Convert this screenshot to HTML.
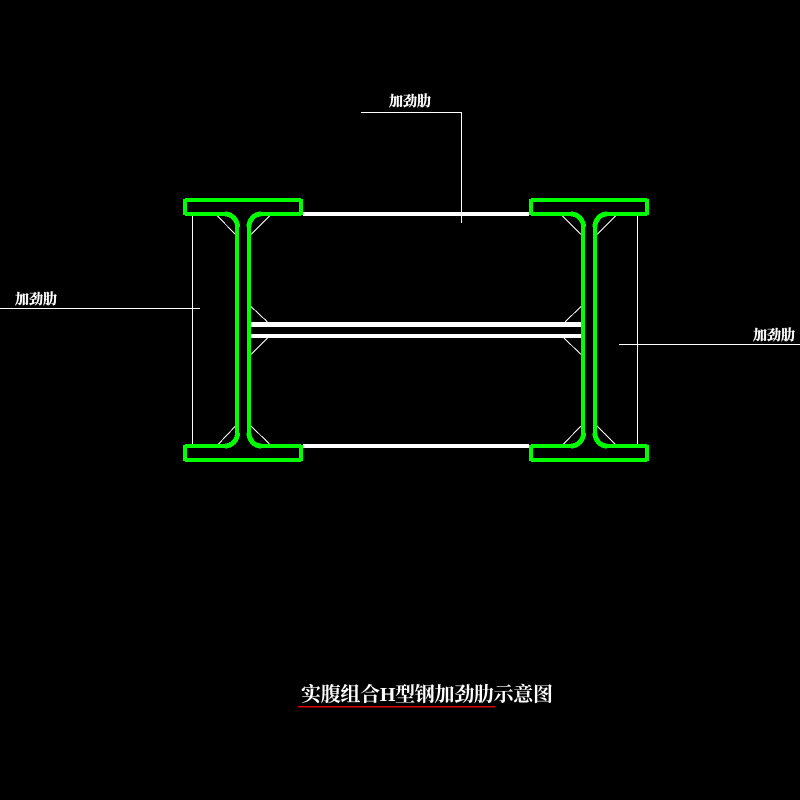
<!DOCTYPE html>
<html lang="zh">
<head>
<meta charset="utf-8">
<title>实腹组合H型钢加劲肋示意图</title>
<style>
html,body{margin:0;padding:0;background:#000;width:800px;height:800px;overflow:hidden}
svg{display:block}
text{fill:#fff;font-family:"Liberation Serif","Noto Serif CJK SC",serif;font-weight:700}
.label{font-size:14px;stroke:#fff;stroke-width:.3}
.title{font-size:20px}
.thin{stroke:#fff;stroke-width:1;fill:none;shape-rendering:crispEdges}
.diag{stroke:#fff;stroke-width:1;fill:none;shape-rendering:crispEdges}
.thick{stroke:#fff;stroke-width:4;fill:none;shape-rendering:crispEdges}
.steel{stroke:#00ff00;stroke-width:4;fill:none;stroke-linecap:butt;stroke-linejoin:round;shape-rendering:crispEdges}
.fillet{stroke:#00ff00;stroke-width:5;fill:none;stroke-linecap:butt;shape-rendering:crispEdges}
</style>
</head>
<body>
<svg xmlns="http://www.w3.org/2000/svg" width="800" height="800" viewBox="0 0 800 800">
<rect width="800" height="800" fill="#000"/>

<!-- white stiffeners -->
<path class="thick" d="M303 214H529"/>
<path class="thick" d="M303 446H529"/>
<path class="thick" d="M251 324.500H581" style="stroke-width:5"/>
<path class="thick" d="M251 336H581"/>

<!-- leaders and thin lines -->
<path class="thin" d="M192.500 216V444"/>
<path class="thin" d="M637.500 216V444"/>
<path class="thin" d="M0 308.500H200"/>
<path class="thin" d="M619 344.500H800"/>
<path class="thin" d="M361 112.500H461.500V223"/>

<!-- diagonals left -->
<path class="diag" d="M217.500 216L235.500 234.500M269.500 216L251 234.500M251 306.500L267.500 322M267.500 338L251 354.500M235.500 426L218.500 444M251 426L269.500 444"/>
<!-- diagonals right -->
<path class="diag" d="M562.500 216L581 234.500M615.500 216L597 234.500M581 306.500L565 322M564 338L581 354.500M581 426L563.500 444M597 426L615.500 444.500"/>

<!-- left H section -->
<path class="steel" d="M185 200H301M185 214H225M261 214H301M185 446H225M261 446H301M185 460H301M237 227V433M249 227V433"/>
<path class="steel" d="M185 199V215M301 199V215M185 445V461M301 445V461"/>
<path class="fillet" d="M225 214A12.500 13 0 0 1 237.500 227M261 214A12 13 0 0 0 249 227M225 446A12.500 13 0 0 0 237.500 433M261 446A12 13 0 0 1 249 433"/>
<!-- right H section -->
<path class="steel" d="M531 200H647M531 214H571M607 214H647M531 446H571M607 446H647M531 460H647M583 227V433M595 227V433"/>
<path class="steel" d="M531 199V215M647 199V215M531 445V461M647 445V461"/>
<path class="fillet" d="M571 214A12.500 13 0 0 1 583.500 227M607 214A12 13 0 0 0 595 227M571 446A12.500 13 0 0 0 583.500 433M607 446A12 13 0 0 1 595 433"/>

<!-- labels -->
<text class="label" x="389" y="106" textLength="42" lengthAdjust="spacingAndGlyphs">加劲肋</text>
<text class="label" x="15" y="304" textLength="42" lengthAdjust="spacingAndGlyphs">加劲肋</text>
<text class="label" x="753" y="340" textLength="42" lengthAdjust="spacingAndGlyphs">加劲肋</text>

<!-- title -->
<text class="title" x="301" y="701" textLength="252" lengthAdjust="spacing">实腹组合H型钢加劲肋示意图</text>
<path d="M298 706.500H495" stroke="#e00000" stroke-width="1.500" fill="none" shape-rendering="crispEdges"/>
</svg>
</body>
</html>
